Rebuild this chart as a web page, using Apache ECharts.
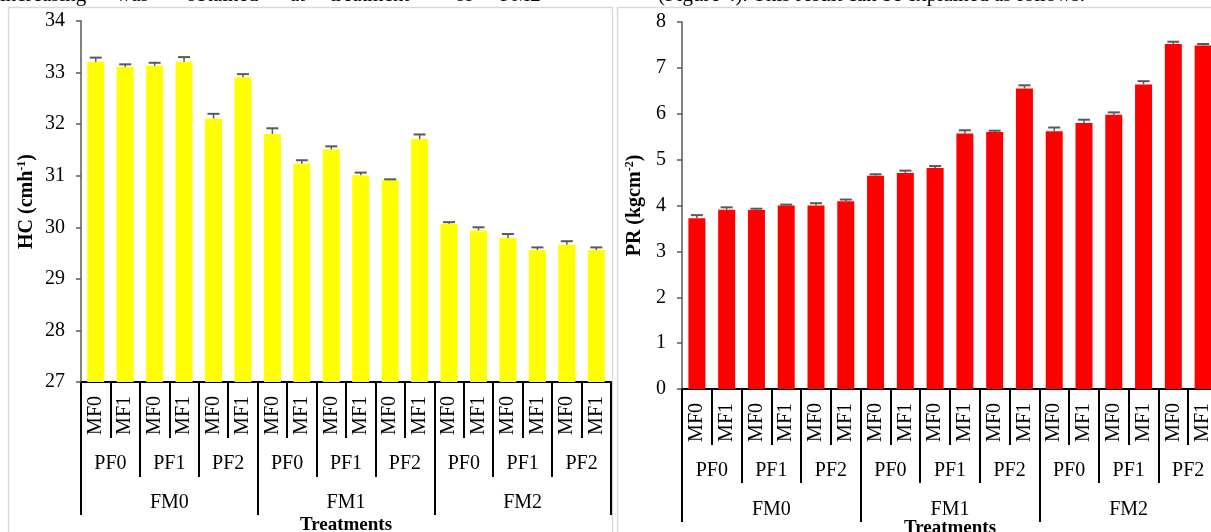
<!DOCTYPE html>
<html lang="en">
<head>
	<meta charset="utf-8">
	<title>HC and PR by treatment</title>
	<script src="https://cdn.jsdelivr.net/npm/echarts@6/dist/echarts.min.js"></script>
	<style>
		html, body { margin: 0; padding: 0; background: #fff; }
		#main { width: 1211px; height: 532px; }
	</style>
</head>
<body>
	<div id="main"></div>
	<script>
		// category levels of the treatment axis
		const mfLabels = ['MF0','MF1','MF0','MF1','MF0','MF1','MF0','MF1','MF0','MF1','MF0','MF1','MF0','MF1','MF0','MF1','MF0','MF1'];
		const pfLabels = ['PF0','PF1','PF2','PF0','PF1','PF2','PF0','PF1','PF2'];
		const fmLabels = ['FM0','FM1','FM2'];

		// HC (cmh-1) - left panel
		const hcValues = [33.21,33.11,33.13,33.21,32.11,32.91,31.81,31.23,31.51,31.01,30.91,31.71,30.07,29.94,29.79,29.56,29.66,29.56];
		const hcErrors = [0.08,0.05,0.06,0.09,0.09,0.06,0.11,0.07,0.06,0.05,0.02,0.09,0.03,0.06,0.08,0.05,0.07,0.05];
		const hcTicks = [27, 34, 1];

		// PR (kgcm-2) - right panel
		const prValues = [3.72,3.91,3.90,4.00,4.00,4.09,4.65,4.71,4.82,5.57,5.60,6.55,5.62,5.80,5.98,6.64,7.52,7.49];
		const prErrors = [0.07,0.05,0.03,0.02,0.05,0.04,0.03,0.05,0.04,0.07,0.03,0.07,0.08,0.07,0.05,0.07,0.05,0.03];
		const prTicks = [0, 8, 1];

		const FONT = 'Liberation Serif';
		let chart = echarts.init(document.getElementById('main'), null, { renderer: 'canvas' });

		// three stacked category axes for one panel (MF / PF / FM), all at the bottom
		function treatmentAxes(grid, ticks, nameGap) {
			const tickStyle = { color: '#000', width: 2 };
			const lbl = { color: '#000', fontFamily: FONT, fontSize: 20, interval: 0 };
			return [{
				type: 'category', gridIndex: grid, data: mfLabels, position: 'bottom', offset: 0,
				axisLine: { show: true, onZero: false, lineStyle: { color: '#000', width: 2 } },
				axisTick: { show: true, interval: 0, length: ticks[0], lineStyle: tickStyle },
				axisLabel: Object.assign({}, lbl, { rotate: 90, margin: 14 }),
				splitLine: { show: false }
			}, {
				type: 'category', gridIndex: grid, data: pfLabels, position: 'bottom', offset: 0,
				axisLine: { show: false, onZero: false },
				axisTick: { show: true, interval: 0, length: ticks[1], lineStyle: tickStyle },
				axisLabel: Object.assign({}, lbl, { margin: 72 }),
				splitLine: { show: false }
			}, {
				type: 'category', gridIndex: grid, data: fmLabels, position: 'bottom', offset: 0,
				axisLine: { show: false, onZero: false },
				axisTick: { show: true, interval: 0, length: ticks[2], lineStyle: tickStyle },
				axisLabel: Object.assign({}, lbl, { margin: 111 }),
				name: 'Treatments', nameLocation: 'middle', nameGap: nameGap, nameMoveOverlap: false,
				nameTextStyle: { color: '#000', fontFamily: FONT, fontSize: 19, fontWeight: 'bold' },
				splitLine: { show: false }
			}];
		}

		function valueAxis(grid, t, name, gap) {
			return {
				type: 'value', gridIndex: grid, min: t[0], max: t[1], interval: t[2],
				name: name, nameLocation: 'middle', nameGap: gap, nameRotate: 90,
				nameTextStyle: {
					color: '#000',
					rich: {
						b: { fontFamily: FONT, fontSize: 20, fontWeight: 'bold', color: '#000' },
						sup: { fontFamily: FONT, fontSize: 12, fontWeight: 'bold', color: '#000', verticalAlign: 'top', padding: [0, 0, 9, 0] }
					}
				},
				axisLine: { show: true, lineStyle: { color: '#595959', width: 1.5 } },
				axisTick: { show: true, length: 5, lineStyle: { color: '#595959', width: 1.5 } },
				axisLabel: { color: '#000', fontFamily: FONT, fontSize: 20, margin: 16 },
				splitLine: { show: false }
			};
		}

		function errorBars(xIdx, yIdx, vals, errs) {
			return {
				type: 'custom', xAxisIndex: xIdx, yAxisIndex: yIdx, silent: true, z: 3,
				data: vals.map(function (v, i) { return [i, v, v + errs[i]]; }),
				renderItem: function (params, api) {
					const base = api.coord([api.value(0), api.value(1)]);
					const top = api.coord([api.value(0), api.value(2)]);
					const half = 6;
					return {
						type: 'group',
						children: [{
							type: 'line',
							shape: { x1: base[0], y1: base[1], x2: top[0], y2: top[1] },
							style: { stroke: '#595959', lineWidth: 1.5 }
						}, {
							type: 'line',
							shape: { x1: top[0] - half, y1: top[1], x2: top[0] + half, y2: top[1] },
							style: { stroke: '#595959', lineWidth: 2 }
						}]
					};
				}
			};
		}

		const textFont = '21px "Liberation Serif"';
		let option = {
			animation: false,
			backgroundColor: '#fff',
			grid: [
				{ left: 81, top: 21, right: 600, bottom: 150, outerBoundsMode: 'none', containLabel: false },
				{ left: 682, top: 22, right: -7, bottom: 143, outerBoundsMode: 'none', containLabel: false }
			],
			xAxis: treatmentAxes(0, [56, 95, 133], 134).concat(treatmentAxes(1, [56, 94, 133], 130)),
			yAxis: [
				valueAxis(0, hcTicks, '{b|HC (cmh}{sup|-1}{b|)}', 44),
				valueAxis(1, prTicks, '{b|PR (kgcm}{sup|-2}{b|)}', 37)
			],
			graphic: [
				{ type: 'rect', shape: { x: 8.5, y: 7.5, width: 604, height: 540 }, style: { fill: 'none', stroke: '#d9d9d9', lineWidth: 1.5 }, silent: true },
				{ type: 'rect', shape: { x: 617.5, y: 7.5, width: 610, height: 540 }, style: { fill: 'none', stroke: '#d9d9d9', lineWidth: 1.5 }, silent: true },
				// clipped line of the surrounding paper text
				{ type: 'text', left: 0, top: -15, style: { text: 'increasing', font: textFont, fill: '#000' } },
				{ type: 'text', left: 116, top: -15, style: { text: 'was', font: textFont, fill: '#000' } },
				{ type: 'text', left: 186, top: -15, style: { text: 'obtained', font: textFont, fill: '#000' } },
				{ type: 'text', left: 290, top: -15, style: { text: 'at', font: textFont, fill: '#000' } },
				{ type: 'text', left: 330, top: -15, style: { text: 'treatment', font: textFont, fill: '#000' } },
				{ type: 'text', left: 455, top: -15, style: { text: 'of', font: textFont, fill: '#000' } },
				{ type: 'text', left: 500, top: -15, style: { text: 'FM2', font: textFont, fill: '#000' } },
				{ type: 'text', left: 658, top: -15, style: { text: '(Figure 4). This result can be explained as follows.', font: textFont, fill: '#000' } }
			],
			series: [
				{ type: 'bar', xAxisIndex: 0, yAxisIndex: 0, data: hcValues, barWidth: 17, itemStyle: { color: '#ffff00' } },
				errorBars(0, 0, hcValues, hcErrors),
				{ type: 'bar', xAxisIndex: 3, yAxisIndex: 1, data: prValues, barWidth: 17, itemStyle: { color: '#ff0000' } },
				errorBars(3, 1, prValues, prErrors)
			]
		};
		chart.setOption(option);
	</script>
</body>
</html>
